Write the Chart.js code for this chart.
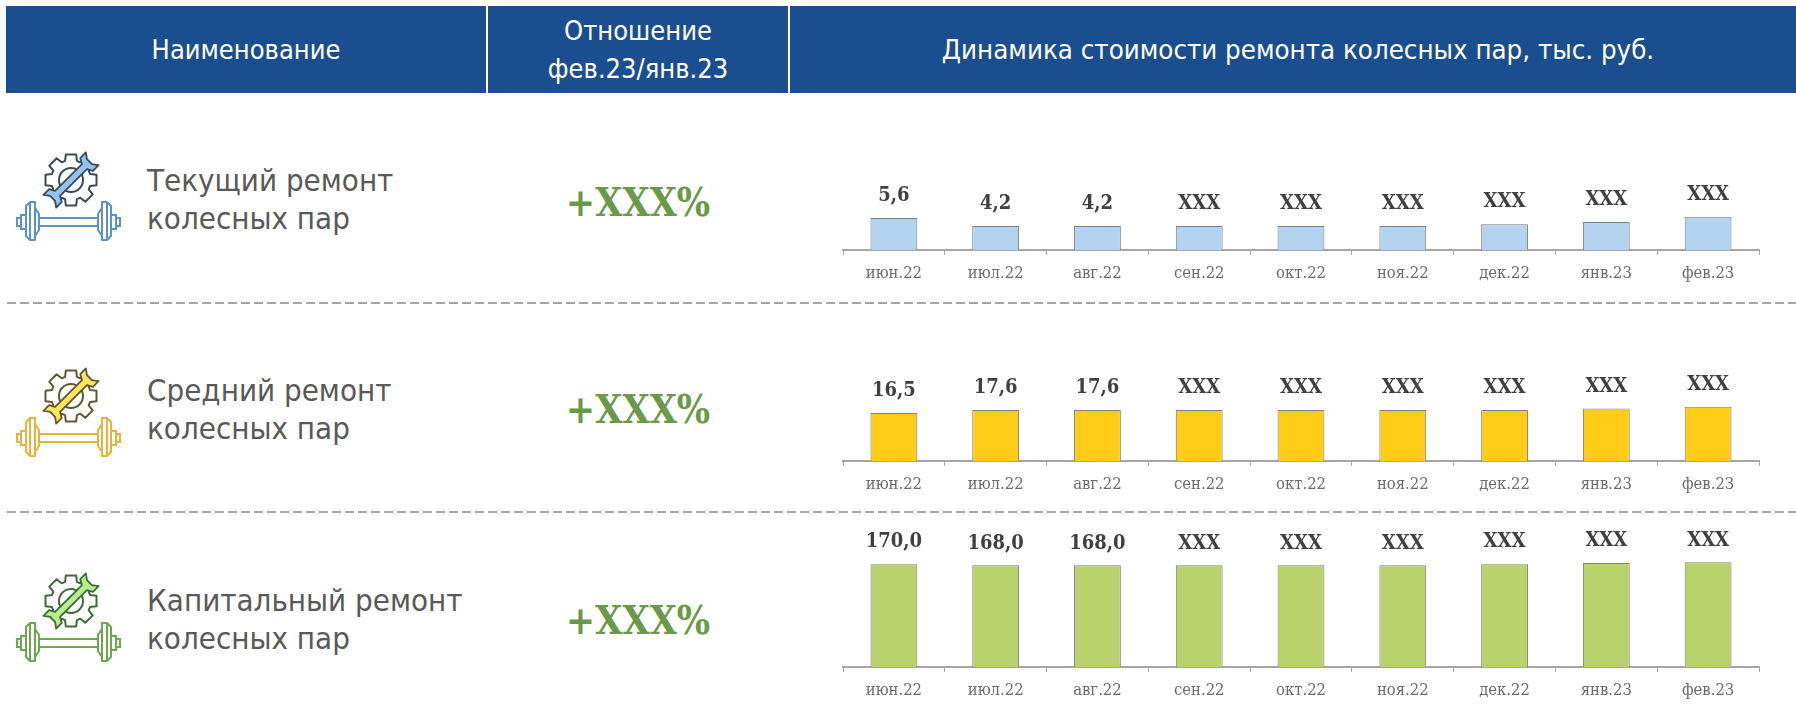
<!DOCTYPE html>
<html lang="ru">
<head>
<meta charset="utf-8">
<title>Динамика стоимости ремонта колесных пар</title>
<script src="https://cdn.jsdelivr.net/npm/chart.js@4"></script>
<style>
html, body { margin: 0; padding: 0; background: #fff; }
#page { position: relative; width: 1796px; height: 719px; overflow: hidden; font-family: "DejaVu Sans Condensed", "DejaVu Sans", sans-serif; }
#page div, #page canvas, #page svg { position: absolute; }
.head { top: 6px; height: 87px; background: #1b4e8f; color: #fff; font-size: 27px; line-height: 38px; display: flex; align-items: center; justify-content: center; text-align: center; box-sizing: border-box; }
.name { left: 147px; width: 340px; font-size: 31px; line-height: 38px; color: #595959; }
.pct { left: 488px; width: 300px; text-align: center; font: bold 39px "DejaVu Serif Condensed", "DejaVu Serif", serif; color: #6a994a; }
.dash { left: 7px; width: 1789px; height: 2px; background: repeating-linear-gradient(90deg, #a6a6a6 0, #a6a6a6 9px, transparent 9px, transparent 13px); }
</style>
</head>
<body>
<div id="page">
  <div class="head" style="left:6px;width:480px">Наименование</div>
  <div class="head" style="left:488px;width:300px">Отношение<br>фев.23/янв.23</div>
  <div class="head" style="left:790px;width:1006px;padding-left:10px;font-size:27.4px">Динамика стоимости ремонта колесных пар, тыс. руб.</div>

  <div class="name" style="top:161px">Текущий ремонт<br>колесных пар</div>
  <div class="name" style="top:371px">Средний ремонт<br>колесных пар</div>
  <div class="name" style="top:581px">Капитальный ремонт<br>колесных пар</div>

  <div class="pct" style="top:179px">+XXX%</div>
  <div class="pct" style="top:386px">+XXX%</div>
  <div class="pct" style="top:597px">+XXX%</div>

  <div class="dash" style="top:302px"></div>
  <div class="dash" style="top:511px"></div>

  <svg id="icon0" style="left:10px;top:145px" width="116" height="104"></svg>
  <svg id="icon1" style="left:10px;top:361px" width="116" height="104"></svg>
  <svg id="icon2" style="left:10px;top:566px" width="116" height="104"></svg>

  <canvas id="chart0" style="left:841px;top:170px" width="920" height="120"></canvas>
  <canvas id="chart1" style="left:841px;top:349px" width="920" height="152"></canvas>
  <canvas id="chart2" style="left:841px;top:520px" width="920" height="187"></canvas>
</div>

<script>
var categories = ['июн.22', 'июл.22', 'авг.22', 'сен.22', 'окт.22', 'ноя.22', 'дек.22', 'янв.23', 'фев.23'];

// высоты столбцов с XXX оценены по картинке
var currentRepair = [5.6, 4.2, 4.2, 4.2, 4.2, 4.2, 4.5, 4.9, 5.8];
var mediumRepair = [16.5, 17.6, 17.6, 17.6, 17.6, 17.6, 17.6, 18.1, 18.7];
var capitalRepair = [170, 168, 168, 168, 168, 168, 170, 172, 173];

var currentLabels = ['5,6', '4,2', '4,2', 'XXX', 'XXX', 'XXX', 'XXX', 'XXX', 'XXX'];
var mediumLabels = ['16,5', '17,6', '17,6', 'XXX', 'XXX', 'XXX', 'XXX', 'XXX', 'XXX'];
var capitalLabels = ['170,0', '168,0', '168,0', 'XXX', 'XXX', 'XXX', 'XXX', 'XXX', 'XXX'];

var barLabels = {
    id: 'barLabels',
    afterDatasetsDraw: function (chart, args, opts) {
        var ctx = chart.ctx;
        ctx.save();
        ctx.font = 'bold 20px "DejaVu Serif Condensed", "DejaVu Serif", serif';
        ctx.fillStyle = '#404040';
        ctx.textAlign = 'center';
        ctx.textBaseline = 'middle';
        chart.getDatasetMeta(0).data.forEach(function (bar, i) {
            ctx.fillText(opts.texts[i], bar.x, bar.y - 22);
        });
        ctx.restore();
    }
};

function drawChart(id, values, texts, color, yMax) {
    return new Chart(document.getElementById(id), {
        type: 'bar',
        data: {
            labels: categories,
            datasets: [{
                data: values,
                backgroundColor: color,
                borderColor: '#7f7f7f',
                borderWidth: 1,
                barPercentage: 0.46,
                categoryPercentage: 1
            }]
        },
        options: {
            responsive: false,
            animation: false,
            layout: { padding: { left: 2, right: 2, top: 0, bottom: 0 } },
            plugins: {
                legend: { display: false },
                tooltip: { enabled: false },
                barLabels: { texts: texts }
            },
            scales: {
                x: {
                    afterFit: function (scale) { scale.height = 40; },
                    border: { color: '#a6a6a6', width: 2 },
                    grid: { drawOnChartArea: false, color: '#a6a6a6', tickLength: 5, tickWidth: 1 },
                    ticks: {
                        color: '#6b6b6b',
                        font: { family: '"DejaVu Serif Condensed", "DejaVu Serif", serif', size: 16.5 },
                        padding: 9,
                        maxRotation: 0,
                        autoSkip: false
                    }
                },
                y: { display: false, min: 0, max: yMax }
            }
        },
        plugins: [barLabels]
    });
}

drawChart('chart0', currentRepair, currentLabels, '#b4d3f0', 14);
drawChart('chart1', mediumRepair, mediumLabels, '#ffcc18', 38.6);
drawChart('chart2', capitalRepair, capitalLabels, '#bad26c', 243);

// значок: шестерня с ключом над колесной парой
function gearPoints(cx, cy) {
    var pts = [];
    for (var i = 0; i < 8; i++) {
        var a = i * Math.PI / 4;
        [[-0.30, 20], [-0.20, 26], [0.20, 26], [0.30, 20]].forEach(function (p) {
            pts.push((cx + p[1] * Math.cos(a + p[0])).toFixed(1) + ',' + (cy + p[1] * Math.sin(a + p[0])).toFixed(1));
        });
    }
    return pts.join(' ');
}

function drawIcon(id, gearStroke, wrenchFill, wheelStroke) {
    document.getElementById(id).innerHTML =
        '<polygon points="' + gearPoints(61, 35) + '" fill="#fff" stroke="' + gearStroke + '" stroke-width="2" stroke-linejoin="round"/>' +
        '<circle cx="61" cy="35" r="12" fill="#fff" stroke="' + gearStroke + '" stroke-width="2"/>' +
        '<path transform="translate(61 35) rotate(-45)" d="M-19 -3.5H19L22 -9H30L26 -3.5V3.5L30 9H22L19 3.5H-19L-22 9H-30L-26 3.5V-3.5L-30 -9H-22z" fill="' + wrenchFill + '" stroke="' + gearStroke + '" stroke-width="1.8" stroke-linejoin="round"/>' +
        '<rect x="29" y="73" width="59" height="8" fill="#fff" stroke="' + wheelStroke + '" stroke-width="2"/>' +
        '<path d="M7 73h4v8H7zM11 70h5v14h-5zM106 73h4v8h-4zM101 70h5v14h-5z" fill="#fff" stroke="' + wheelStroke + '" stroke-width="2"/>' +
        '<path d="M16 61l4 -4h5v38h-5l-4 -4zM101 61l-4 -4h-5v38h5l4 -4z" fill="#fff" stroke="' + wheelStroke + '" stroke-width="2" stroke-linejoin="round"/>' +
        '<path d="M20 57v38M25 63l4 6v16l-4 6zM97 57v38M92 63l-4 6v16l4 6z" fill="#fff" stroke="' + wheelStroke + '" stroke-width="2" stroke-linejoin="round"/>';
}

drawIcon('icon0', '#3c4a52', '#90c4f2', '#5b93c7');
drawIcon('icon1', '#5c5a32', '#ffe45c', '#e8b23c');
drawIcon('icon2', '#3f6b3a', '#b8ee8c', '#6ba84f');
</script>
</body>
</html>
